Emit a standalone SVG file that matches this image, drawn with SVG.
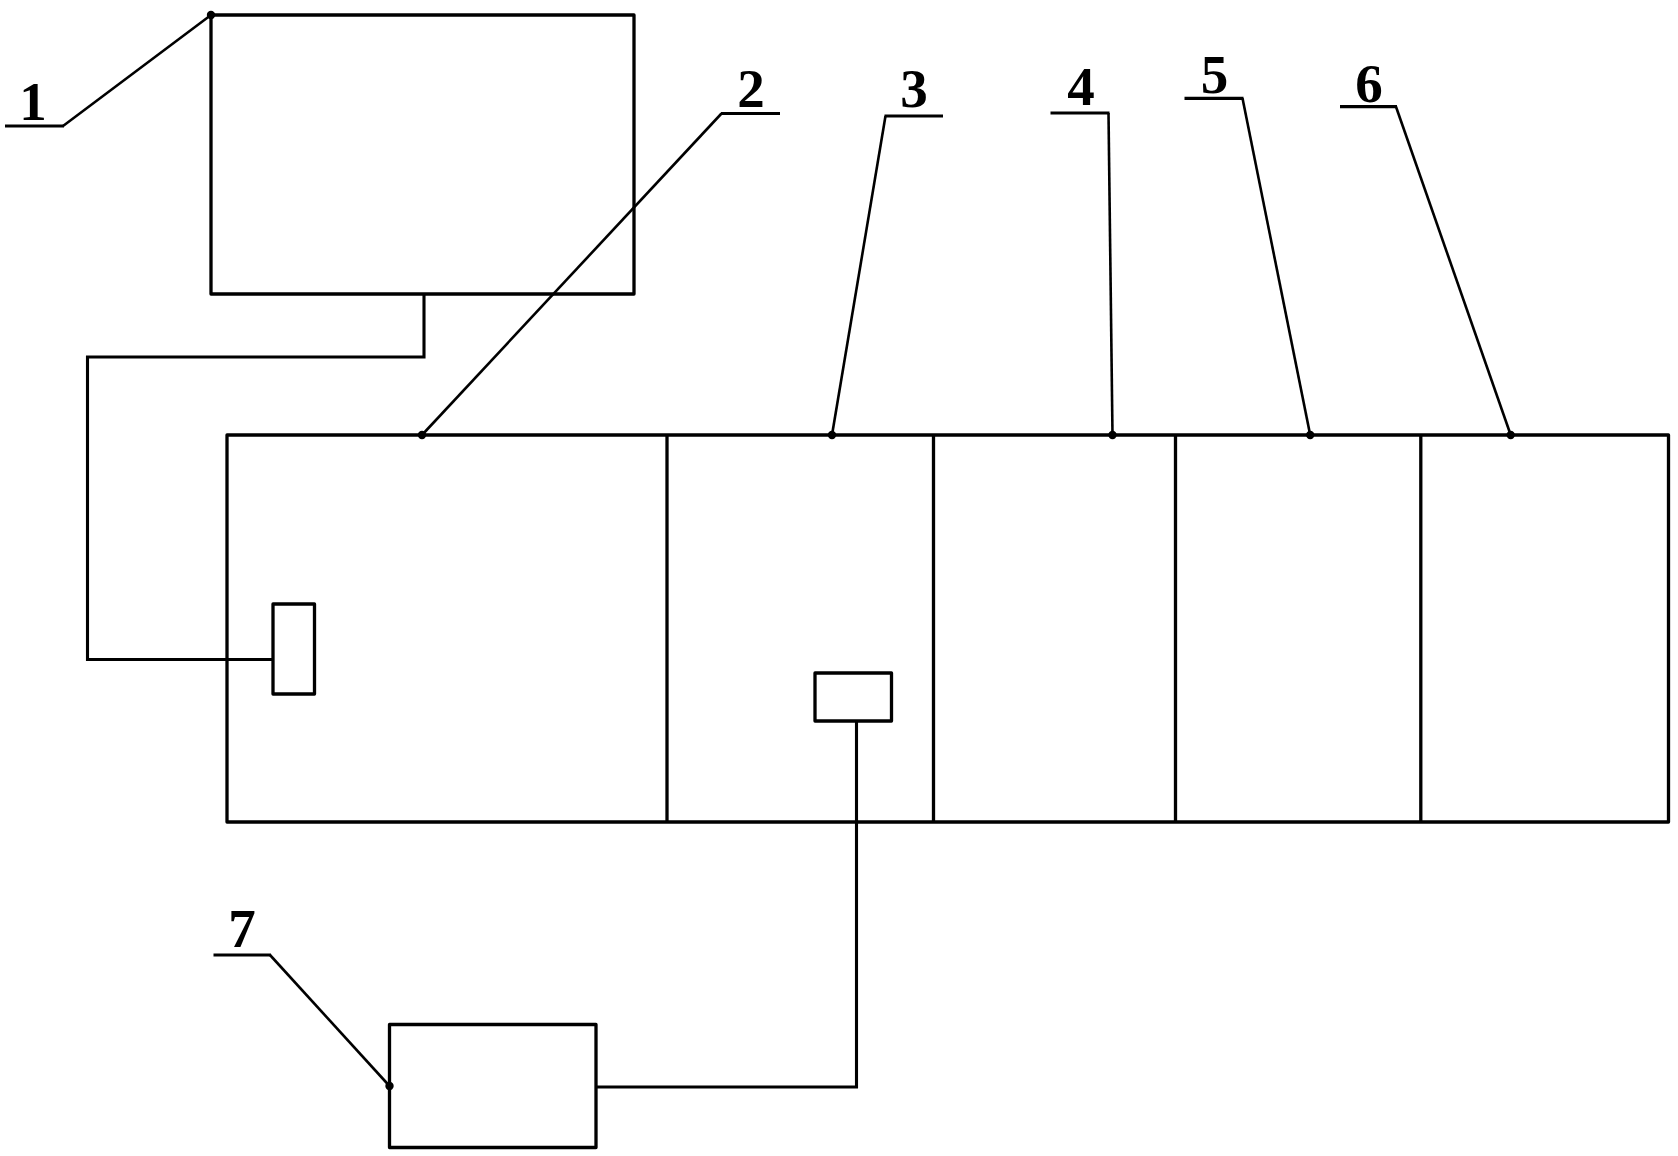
<svg xmlns="http://www.w3.org/2000/svg" width="1678" height="1156" viewBox="0 0 1678 1156">
<style>
.box{fill:none;stroke:#000;stroke-width:3.3;stroke-linejoin:round}
.wire{fill:none;stroke:#000;stroke-width:3.1}
.lead{fill:none;stroke:#000;stroke-width:2.6;stroke-linejoin:round}
.under{fill:none;stroke:#000;stroke-width:3.2}
.dot{fill:#000}
.lbl{font-family:"Liberation Serif","DejaVu Serif",serif;font-weight:bold;font-size:55px;fill:#000;text-anchor:middle}
</style>
<rect width="1678" height="1156" fill="#fff"/>
<g id="connectors">
<polyline class="wire" points="424,294 424,357 87.5,357 87.5,659.5 273,659.5"/>
<polyline class="wire" points="856.5,721 856.5,1087 596,1087"/>
</g>
<g id="node1"><rect class="box" x="211" y="15" width="423" height="279"/></g>
<g id="node-main">
<rect class="box" x="227" y="435" width="1441.5" height="387"/>
<line class="box" x1="667" y1="435" x2="667" y2="822"/>
<line class="box" x1="933.5" y1="435" x2="933.5" y2="822"/>
<line class="box" x1="1175.5" y1="435" x2="1175.5" y2="822"/>
<line class="box" x1="1420.8" y1="435" x2="1420.8" y2="822"/>
</g>
<g id="node-sensorA"><rect class="box" x="273" y="604" width="41.5" height="90"/></g>
<g id="node-sensorB"><rect class="box" x="815" y="673" width="76.5" height="48"/></g>
<g id="node7"><rect class="box" x="389.5" y="1024.5" width="206.5" height="123"/></g>
<g id="leaders">
<polyline class="lead" points="211,15 63,126"/><line class="under" x1="5" y1="126" x2="64" y2="126"/><circle class="dot" cx="211" cy="15" r="4.2"/>
<polyline class="lead" points="422,435 721.5,113.5"/><line class="under" x1="721" y1="113.5" x2="780" y2="113.5"/><circle class="dot" cx="422" cy="435" r="4.2"/>
<polyline class="lead" points="832,435 885.5,116"/><line class="under" x1="884.5" y1="116" x2="943" y2="116"/><circle class="dot" cx="832" cy="435" r="4.2"/>
<polyline class="lead" points="1112.5,435 1108.5,113"/><line class="under" x1="1050.5" y1="113" x2="1109.5" y2="113"/><circle class="dot" cx="1112.5" cy="435" r="4.2"/>
<polyline class="lead" points="1310.2,435 1242.5,98.3"/><line class="under" x1="1184.5" y1="98.3" x2="1243.5" y2="98.3"/><circle class="dot" cx="1310.2" cy="435" r="4.2"/>
<polyline class="lead" points="1510.7,435 1396,106.7"/><line class="under" x1="1340" y1="106.7" x2="1397" y2="106.7"/><circle class="dot" cx="1510.7" cy="435" r="4.2"/>
<polyline class="lead" points="389.5,1086 270,955"/><line class="under" x1="213.5" y1="955" x2="271" y2="955"/><circle class="dot" cx="389.5" cy="1086" r="4.2"/>
</g>
<g id="labels">
<text class="lbl" x="33" y="120">1</text>
<text class="lbl" x="751" y="107">2</text>
<text class="lbl" x="914" y="107">3</text>
<text class="lbl" x="1081" y="105">4</text>
<text class="lbl" x="1214.5" y="93">5</text>
<text class="lbl" x="1369" y="102">6</text>
<text class="lbl" x="242" y="947">7</text>
</g>
</svg>
